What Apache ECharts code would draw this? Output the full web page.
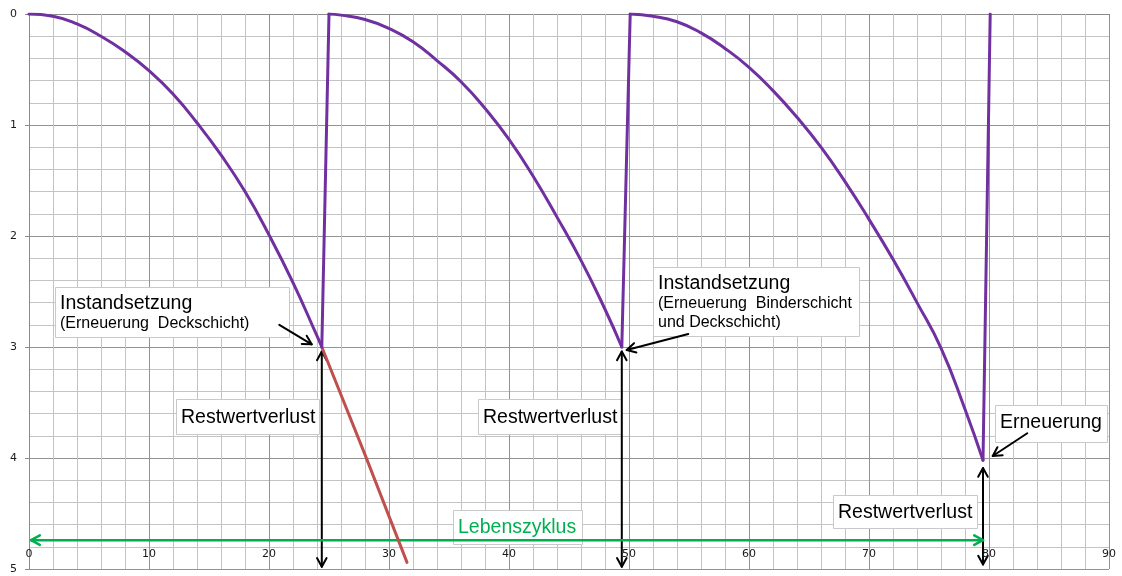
<!DOCTYPE html>
<html>
<head>
<meta charset="utf-8">
<title>Lebenszyklus</title>
<script src="https://cdn.jsdelivr.net/npm/echarts@6/dist/echarts.min.js"></script>
<style>
  html, body { margin: 0; padding: 0; background: #fff; }
  #chart { width: 1122px; height: 576px; }
</style>
</head>
<body>
<div id="chart"></div>
<script>
// Zustandsverlauf einer Fahrbahnbefestigung über die Nutzungsjahre
// (x: Jahre, y: Zustandswert, 0 = neuwertig oben, 5 = Ende unten)

const xTicks = [0, 10, 20, 30, 40, 50, 60, 70, 80, 90];
const yTicks = [0, 1, 2, 3, 4, 5];

// Alterung bis zur ersten Instandsetzung
const decay1 = [[0, 0], [2, 0.02], [4, 0.09], [6, 0.2], [8, 0.34], [10, 0.51], [12, 0.72],
  [14, 0.98], [16, 1.27], [18, 1.6], [20, 1.99], [22, 2.42], [24, 2.9], [24.4, 3.0]];
// Alterung bis zur zweiten Instandsetzung
const decay2 = [[25.0, 0], [26, 0.01], [28, 0.05], [30, 0.13], [32, 0.25], [34, 0.42], [36, 0.61],
  [38, 0.85], [40, 1.13], [42, 1.46], [44, 1.83], [46, 2.22], [48, 2.66], [49.4, 3.0]];
// Alterung bis zur Erneuerung
const decay3 = [[50.1, 0], [52, 0.02], [54, 0.07], [56, 0.17], [58, 0.31], [60, 0.48], [62, 0.69],
  [64, 0.93], [66, 1.2], [68, 1.51], [70, 1.85], [72, 2.21], [74, 2.6], [76, 3.01], [78, 3.56], [79.5, 4.02]];
// Sprünge zurück auf den Neuzustand
const renew1 = [[24.4, 3.0], [25.0, 0]];
const renew2 = [[49.4, 3.0], [50.1, 0]];
const renew3 = [[79.5, 4.02], [80.1, 0]];
// Weiterer Verlauf ohne Maßnahme
const noMeasure = [[24.4, 3.0], [28, 3.97], [31.5, 4.94]];

// Beschriftungen
const textInstand1 = ['Instandsetzung', '(Erneuerung  Deckschicht)'];
const textInstand2 = ['Instandsetzung', '(Erneuerung  Binderschicht', 'und Deckschicht)'];
const textRestwert = ['Restwertverlust'];
const textErneuerung = ['Erneuerung'];
const textZyklus = ['Lebenszyklus'];

const PURPLE = '#7030A0';
const RED = '#C0504D';
const GREEN = '#00B050';
const FONT = '"Liberation Sans", Arial, sans-serif';
const AXIS_FONT = '"DejaVu Sans", Verdana, sans-serif';

const chart = echarts.init(document.getElementById('chart'), null, { renderer: 'canvas' });

function lineSeries(data, color, smooth) {
  return {
    type: 'line', data: data, smooth: smooth,
    showSymbol: false, symbol: 'none',
    lineStyle: { color: color, width: 3, cap: 'round', join: 'round' },
    z: 3, silent: true
  };
}

chart.setOption({
  animation: false,
  backgroundColor: '#fff',
  grid: { left: 29, right: 13, top: 14, bottom: 7, containLabel: false },
  xAxis: {
    type: 'value', min: xTicks[0], max: xTicks[xTicks.length - 1], interval: 10,
    axisLine: { show: true, lineStyle: { color: '#8a8a8a', width: 1 } },
    axisTick: { show: true, length: 5, lineStyle: { color: '#8a8a8a' } },
    minorTick: { show: true, splitNumber: 5, length: 5, lineStyle: { color: '#c0c0c0' } },
    splitLine: { show: true, lineStyle: { color: '#939393', width: 1 } },
    minorSplitLine: { show: true, lineStyle: { color: '#c4c4c4', width: 1 } },
    axisLabel: {
      inside: true, margin: 9, fontFamily: AXIS_FONT, fontSize: 11, color: '#1a1a1a',
      showMinLabel: true, showMaxLabel: true
    }
  },
  yAxis: {
    type: 'value', inverse: true, min: yTicks[0], max: yTicks[yTicks.length - 1], interval: 1,
    axisLine: { show: true, lineStyle: { color: '#8a8a8a', width: 1 } },
    axisTick: { show: true, length: 4, lineStyle: { color: '#8a8a8a' } },
    minorTick: { show: false, splitNumber: 5 },
    splitLine: { show: true, lineStyle: { color: '#939393', width: 1 } },
    minorSplitLine: { show: true, lineStyle: { color: '#c4c4c4', width: 1 } },
    axisLabel: { margin: 12, fontFamily: AXIS_FONT, fontSize: 11, color: '#1a1a1a' }
  },
  series: [
    lineSeries(noMeasure, RED, false),
    lineSeries(decay1, PURPLE, 0.5),
    lineSeries(decay2, PURPLE, 0.5),
    lineSeries(decay3, PURPLE, 0.5),
    lineSeries(renew1, PURPLE, false),
    lineSeries(renew2, PURPLE, false),
    lineSeries(renew3, PURPLE, false)
  ]
});

// ---- Pfeile und Textfelder, verankert in Achsenkoordinaten ----
const toPx = (p) => chart.convertToPixel({ gridIndex: 0 }, p);

function arrowHead(tip, from, len, ang) {
  const dx = tip[0] - from[0], dy = tip[1] - from[1];
  const d = Math.hypot(dx, dy) || 1;
  const ux = dx / d, uy = dy / d;
  const c = Math.cos(ang), s = Math.sin(ang);
  const a1 = [tip[0] - len * (ux * c - uy * s), tip[1] - len * (ux * s + uy * c)];
  const a2 = [tip[0] - len * (ux * c + uy * s), tip[1] - len * (-ux * s + uy * c)];
  return [a1, tip, a2];
}

function arrow(from, to, both, color, width) {
  const a = toPx(from), b = toPx(to);
  const style = { stroke: color, lineWidth: width, fill: null, lineCap: 'round', lineJoin: 'round' };
  const children = [
    { type: 'line', shape: { x1: a[0], y1: a[1], x2: b[0], y2: b[1] }, style: style },
    { type: 'polyline', shape: { points: arrowHead(b, a, 10, 0.5) }, style: style }
  ];
  if (both) children.push({ type: 'polyline', shape: { points: arrowHead(a, b, 10, 0.5) }, style: style });
  return { type: 'group', z: 40, children: children };
}

function noteBox(anchor, w, h, lines, fonts, offsets, color) {
  const p = toPx(anchor);
  const x = Math.round(p[0]) + 0.5, y = Math.round(p[1]) + 0.5;
  const children = [{
    type: 'rect', shape: { x: x, y: y, width: w, height: h },
    style: { fill: '#ffffff', stroke: '#c9c9c9', lineWidth: 1 }
  }];
  lines.forEach((t, i) => {
    children.push({
      type: 'text',
      style: {
        text: t, x: x + 4.5, y: y + offsets[i], font: fonts[i], fill: color,
        align: 'left', verticalAlign: 'middle'
      }
    });
  });
  return { type: 'group', z: 30, children: children };
}

const big = '19.5px ' + FONT;
const small = '16px ' + FONT;

chart.setOption({
  graphic: [
    noteBox([2.17, 2.459], 234, 50, textInstand1, [big, small], [16, 36], '#000'),
    noteBox([52.0, 2.279], 206, 69, textInstand2, [big, small, small], [16, 36, 55], '#000'),
    noteBox([12.25, 3.468], 143, 35, textRestwert, [big], [18], '#000'),
    noteBox([37.42, 3.468], 143, 35, textRestwert, [big], [18], '#000'),
    noteBox([67.0, 4.333], 144, 33, textRestwert, [big], [17], '#000'),
    noteBox([80.5, 3.523], 112, 37, textErneuerung, [big], [17], '#000'),
    noteBox([35.33, 4.468], 129, 34, textZyklus, [big], [17], GREEN),

    // Restwertverlust-Pfeile
    arrow([24.4, 4.98], [24.4, 3.04], true, '#000', 2),
    arrow([49.4, 4.98], [49.4, 3.04], true, '#000', 2),
    arrow([79.5, 4.96], [79.5, 4.09], true, '#000', 2),
    // Hinweispfeile auf die Maßnahmen
    arrow([20.86, 2.80], [23.56, 2.976], false, '#000', 2),
    arrow([54.94, 2.883], [49.81, 3.027], false, '#000', 2),
    arrow([83.19, 3.777], [80.31, 3.982], false, '#000', 2),
    // Lebenszyklus
    arrow([79.5, 4.74], [0.17, 4.74], true, GREEN, 2.5)
  ]
});
</script>
</body>
</html>
